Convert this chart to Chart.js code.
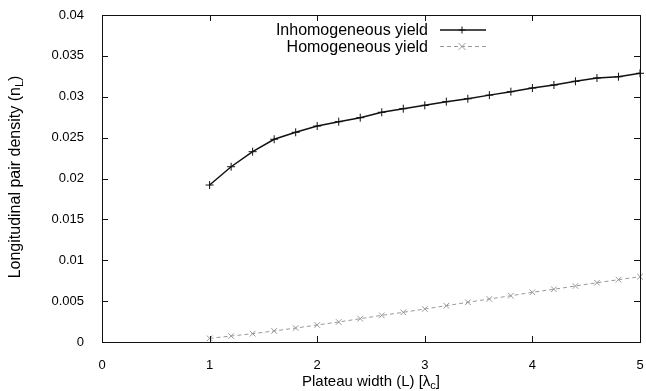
<!DOCTYPE html>
<html>
<head>
<meta charset="utf-8">
<script src="https://cdn.jsdelivr.net/npm/chart.js@4"></script>
<style>
  html, body { margin: 0; padding: 0; background: #fff; }
  #wrap { width: 646px; height: 391px; }
</style>
</head>
<body>
<div id="wrap"><canvas id="chart" width="646" height="391"></canvas></div>
<script>
const plateauWidth = [1, 1.2, 1.4, 1.6, 1.8, 2, 2.2, 2.4, 2.6, 2.8, 3, 3.2, 3.4, 3.6, 3.8, 4, 4.2, 4.4, 4.6, 4.8, 5];
const inhomogeneous = [0.0192, 0.02144, 0.02328, 0.0248, 0.02565, 0.02642, 0.02695, 0.02744, 0.0281, 0.02854,
  0.02895, 0.0294, 0.02976, 0.0302, 0.03062, 0.03107, 0.03144, 0.03189, 0.03229, 0.03245, 0.03287];
const homogeneous = [0.00045, 0.00073, 0.00102, 0.00135, 0.00171, 0.00208, 0.00245, 0.00285, 0.00326, 0.00363,
  0.00404, 0.00444, 0.00486, 0.00526, 0.00566, 0.00608, 0.00645, 0.00685, 0.00725, 0.00762, 0.00799];
const seriesLabels = ['Inhomogeneous yield', 'Homogeneous yield'];
const xTicks = [0, 1, 2, 3, 4, 5];
const yTicks = [0, 0.005, 0.01, 0.015, 0.02, 0.025, 0.03, 0.035, 0.04];

const FONT = "'Liberation Sans', Arial, sans-serif";
const BLACK = '#111';
const GREY = '#999';

const toPoints = ys => plateauWidth.map((x, i) => ({ x, y: ys[i] }));

// gnuplot-ish frame: box border, inward mirrored ticks, key and axis titles with subscripts
const gnuplotFrame = {
  id: 'gnuplotFrame',
  afterDraw(chart) {
    const { ctx, chartArea: a, scales } = chart;
    const xs = scales.x, ys = scales.y;
    ctx.save();
    ctx.strokeStyle = BLACK;
    ctx.lineWidth = 1;
    ctx.strokeRect(Math.round(a.left) + 0.5, Math.round(a.top) + 0.5,
      Math.round(a.right - a.left), Math.round(a.bottom - a.top));
    const tl = 6;
    ctx.beginPath();
    xTicks.forEach(v => {
      const px = Math.round(xs.getPixelForValue(v)) + 0.5;
      ctx.moveTo(px, a.bottom); ctx.lineTo(px, a.bottom - tl);
      ctx.moveTo(px, a.top); ctx.lineTo(px, a.top + tl);
    });
    yTicks.forEach(v => {
      const py = Math.round(ys.getPixelForValue(v)) + 0.5;
      ctx.moveTo(a.left, py); ctx.lineTo(a.left + tl, py);
      ctx.moveTo(a.right, py); ctx.lineTo(a.right - tl, py);
    });
    ctx.stroke();

    // key
    ctx.font = '16px ' + FONT;
    ctx.textAlign = 'right';
    ctx.textBaseline = 'middle';
    const rows = [
      { ds: chart.data.datasets[0], y: 30 },
      { ds: chart.data.datasets[1], y: 46.5 }
    ];
    rows.forEach(r => {
      ctx.fillStyle = '#000';
      ctx.fillText(r.ds.label, 428, r.y + 1);
      ctx.strokeStyle = r.ds.borderColor;
      ctx.lineWidth = r.ds.borderWidth;
      ctx.setLineDash(r.ds.borderDash || []);
      ctx.beginPath();
      ctx.moveTo(440, r.y); ctx.lineTo(486, r.y);
      ctx.stroke();
      ctx.setLineDash([]);
      ctx.lineWidth = 1;
      ctx.beginPath();
      const s = 3.5;
      if (r.ds.pointStyle === 'cross') {
        ctx.moveTo(462 - s, r.y); ctx.lineTo(462 + s, r.y);
        ctx.moveTo(462, r.y - s); ctx.lineTo(462, r.y + s);
      } else {
        ctx.moveTo(462 - s, r.y - s); ctx.lineTo(462 + s, r.y + s);
        ctx.moveTo(462 - s, r.y + s); ctx.lineTo(462 + s, r.y - s);
      }
      ctx.stroke();
    });

    // axis titles
    ctx.fillStyle = '#000';
    ctx.textAlign = 'left';
    ctx.textBaseline = 'alphabetic';
    const drawSub = (parts, cx, cy, size) => {
      const sub = Math.round(size * 0.7);
      let w = 0;
      parts.forEach(p => {
        ctx.font = (p.sub ? sub : size) + 'px ' + FONT;
        w += ctx.measureText(p.t).width;
      });
      let x = cx - w / 2;
      parts.forEach(p => {
        ctx.font = (p.sub ? sub : size) + 'px ' + FONT;
        ctx.fillText(p.t, x, cy + (p.sub ? 3 : 0));
        x += ctx.measureText(p.t).width;
      });
    };
    drawSub([{ t: 'Plateau width (L) [λ' }, { t: 'c', sub: true }, { t: ']' }], 371, 386, 15);
    ctx.save();
    ctx.translate(20, 177);
    ctx.rotate(-Math.PI / 2);
    drawSub([{ t: 'Longitudinal pair density (n' }, { t: 'L', sub: true }, { t: ')' }], 0, 0, 16);
    ctx.restore();
    ctx.restore();
  }
};

new Chart(document.getElementById('chart'), {
  type: 'line',
  data: {
    datasets: [
      {
        label: seriesLabels[0],
        data: toPoints(inhomogeneous),
        borderColor: BLACK,
        backgroundColor: BLACK,
        borderWidth: 1.5,
        pointStyle: 'cross',
        pointRadius: 4,
        pointBorderWidth: 1,
        tension: 0,
        clip: false
      },
      {
        label: seriesLabels[1],
        data: toPoints(homogeneous),
        borderColor: GREY,
        backgroundColor: GREY,
        borderWidth: 1,
        borderDash: [4, 3],
        pointStyle: 'crossRot',
        pointRadius: 4,
        pointBorderWidth: 1,
        tension: 0,
        clip: false
      }
    ]
  },
  options: {
    responsive: false,
    animation: false,
    layout: { padding: { top: 15, right: 6, left: 0, bottom: 0 } },
    plugins: { legend: { display: false }, tooltip: { enabled: false } },
    scales: {
      x: {
        type: 'linear',
        min: 0, max: 5,
        afterBuildTicks: s => { s.ticks = xTicks.map(v => ({ value: v })); },
        afterFit: s => { s.height = 49; s.paddingLeft = 0; s.paddingRight = 0; },
        grid: { display: false },
        border: { display: false },
        ticks: { padding: 8, color: '#000', font: { family: FONT, size: 13 }, maxRotation: 0 }
      },
      y: {
        type: 'linear',
        min: 0, max: 0.04,
        afterBuildTicks: s => { s.ticks = yTicks.map(v => ({ value: v })); },
        afterFit: s => { s.width = 102; s.paddingTop = 0; s.paddingBottom = 0; },
        grid: { display: false },
        border: { display: false },
        ticks: {
          padding: 10, color: '#000', font: { family: FONT, size: 13 },
          callback: v => String(+v.toFixed(4))
        }
      }
    }
  },
  plugins: [gnuplotFrame]
});
</script>
</body>
</html>
